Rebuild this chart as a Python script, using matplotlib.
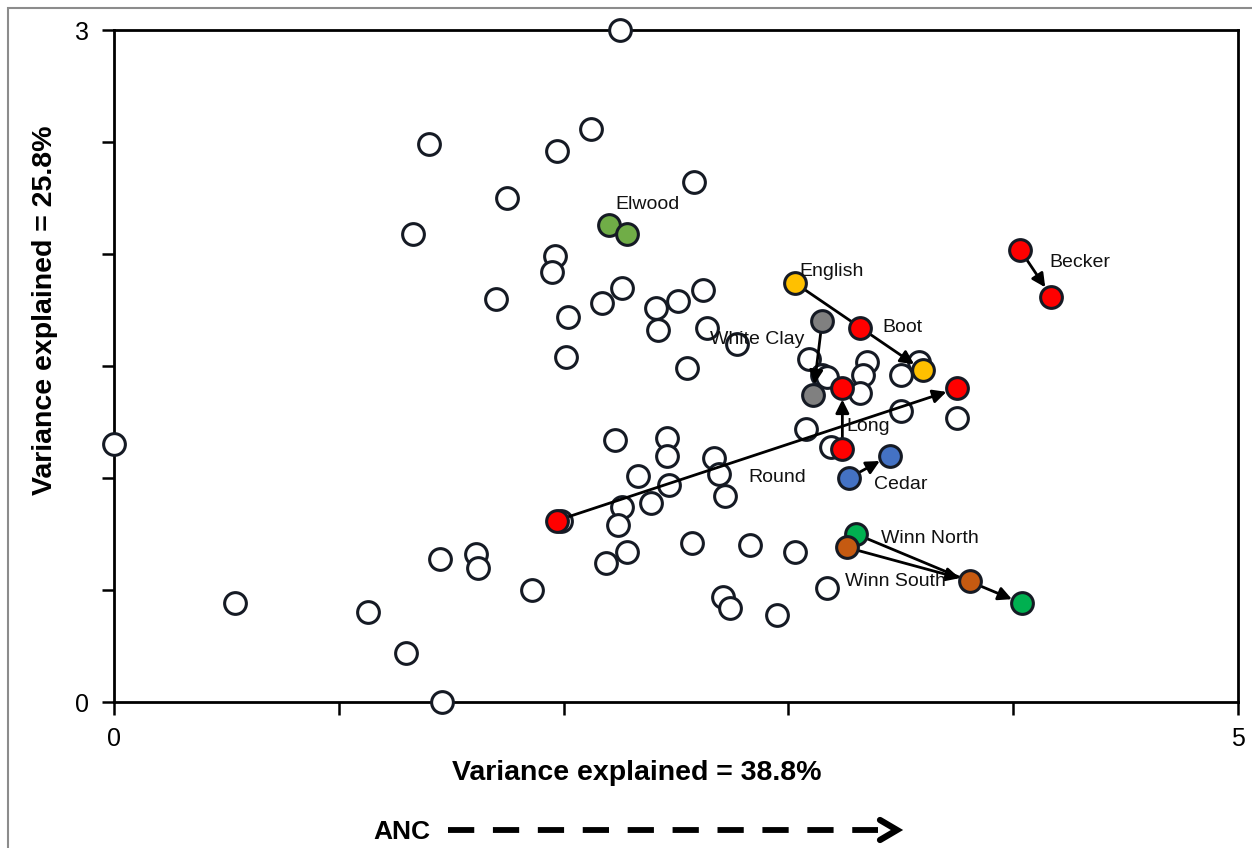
import matplotlib.pyplot as plt
from matplotlib.patches import Rectangle

plt.rcParams['font.family'] = ['Liberation Sans', 'DejaVu Sans']

# open circles (all other sites)
open_x = [2.25, 2.12, 1.40, 1.97, 2.58, 1.75, 1.33, 1.96, 1.95, 2.26, 1.70, 2.17,
          2.62, 2.51, 2.41, 2.02, 2.42, 2.64, 2.77, 2.01, 2.55, 3.09, 3.15, 3.17,
          3.35, 3.33, 3.32, 3.50, 3.58, 3.50, 3.75, 3.08, 3.19, 0.00, 2.23, 2.46,
          2.46, 2.67, 2.69, 2.33, 2.47, 2.72, 2.39, 2.26, 1.99, 2.24, 2.28, 2.19,
          2.57, 2.83, 3.03, 1.86, 2.71, 2.74, 2.95, 3.17, 0.54, 1.13, 1.30, 1.45,
          1.61, 1.62, 1.46]
open_y = [3.00, 2.56, 2.49, 2.46, 2.32, 2.25, 2.09, 1.99, 1.92, 1.85, 1.80, 1.78,
          1.84, 1.79, 1.76, 1.72, 1.66, 1.67, 1.60, 1.54, 1.49, 1.53, 1.46, 1.45,
          1.52, 1.46, 1.38, 1.46, 1.52, 1.30, 1.27, 1.22, 1.14, 1.15, 1.17, 1.18,
          1.10, 1.09, 1.02, 1.01, 0.97, 0.92, 0.89, 0.87, 0.81, 0.79, 0.67, 0.62,
          0.71, 0.70, 0.67, 0.50, 0.47, 0.42, 0.39, 0.51, 0.44, 0.40, 0.22, 0.64,
          0.66, 0.60, 0.00]

# highlighted lakes: (start, end) positions
lakes = ['Elwood', 'English', 'Boot', 'Becker', 'White Clay', 'Long', 'Round',
         'Cedar', 'Winn North', 'Winn South']
x_start = [2.20, 3.03, 3.32, 4.03, 3.15, 3.24, 1.97, 3.27, 3.30, 3.26]
y_start = [2.13, 1.87, 1.67, 2.02, 1.70, 1.13, 0.81, 1.00, 0.75, 0.69]
x_end = [2.28, 3.60, None, 4.17, 3.11, 3.24, 3.75, 3.45, 4.04, 3.81]
y_end = [2.09, 1.48, None, 1.81, 1.37, 1.40, 1.40, 1.10, 0.44, 0.54]
lake_colors = ['#70AD47', '#FFC000', '#FF0000', '#FF0000', '#808080', '#FF0000',
               '#FF0000', '#4472C4', '#00B050', '#C55A11']
draw_arrow = [False, True, False, True, True, True, True, True, True, True]

# label anchor (left, vertical centre), data units
label_x = [2.23, 3.05, 3.42, 4.16, 2.65, 3.26, 2.82, 3.38, 3.41, 3.25]
label_y = [2.22, 1.92, 1.67, 1.96, 1.62, 1.23, 1.00, 0.97, 0.73, 0.54]

edge = '#151a24'

fig = plt.figure(figsize=(12.52, 8.48), dpi=100)
ax = fig.add_axes([114 / 1252, 1 - 702 / 848, 1124 / 1252, 672 / 848])

ax.scatter(open_x, open_y, s=245, facecolors='white', edgecolors=edge,
           linewidths=2.2, zorder=3, clip_on=False)

for i in range(len(lakes)):
    if x_end[i] is not None and draw_arrow[i]:
        ax.annotate('', xy=(x_end[i], y_end[i]), xytext=(x_start[i], y_start[i]),
                    arrowprops=dict(arrowstyle='-|>', color='black', lw=2.0,
                                    mutation_scale=20, shrinkA=7, shrinkB=8),
                    zorder=4)
for i in range(len(lakes)):
    xs = [x_start[i]]
    ys = [y_start[i]]
    if x_end[i] is not None:
        xs.append(x_end[i])
        ys.append(y_end[i])
    ax.scatter(xs, ys, s=245, facecolors=lake_colors[i], edgecolors=edge,
               linewidths=2.2, zorder=5, clip_on=False)
    ax.text(label_x[i], label_y[i], lakes[i], fontsize=14, ha='left', va='center',
            color='#111111', zorder=6)

ax.set_xlim(0, 5)
ax.set_ylim(0, 3)
ax.set_xticks([0, 1, 2, 3, 4, 5])
ax.set_xticklabels(['0', '', '', '', '', '5'])
ax.set_yticks([0, 0.5, 1, 1.5, 2, 2.5, 3])
ax.set_yticklabels(['0', '', '', '', '', '', '3'])
ax.tick_params(direction='out', length=9, width=1.8, labelsize=18, pad=9, color='black')
for sp in ax.spines.values():
    sp.set_linewidth(2.0)
    sp.set_color('black')

fig.text(637 / 1252, 1 - 773 / 848, 'Variance explained = 38.8%', fontsize=20.5,
         fontweight='bold', ha='center', va='center')
fig.text(45 / 1252, 1 - 310 / 848, 'Variance explained = 25.8%', fontsize=20.5,
         fontweight='bold', ha='center', va='center', rotation=90)

# ANC gradient arrow
fig.text(402 / 1252, 1 - 832 / 848, 'ANC', fontsize=19, fontweight='bold',
         ha='center', va='center')
fig.add_artist(plt.Line2D([448 / 1252, 878 / 1252], [1 - 830 / 848, 1 - 830 / 848],
                          transform=fig.transFigure, color='black', lw=4.2,
                          dashes=(4.5, 3.2)))
fig.add_artist(plt.Line2D([880 / 1252, 897 / 1252, 880 / 1252],
                          [1 - 820 / 848, 1 - 830 / 848, 1 - 840 / 848],
                          transform=fig.transFigure, color='black', lw=4.5,
                          solid_capstyle='round', solid_joinstyle='miter'))

# chart area border (cropped at right/bottom)
fig.add_artist(Rectangle((8 / 1252, -0.1), 1.2, 1 - 8 / 848 + 0.1,
                         transform=fig.transFigure, fill=False,
                         edgecolor='#8c8c8c', lw=1.5))

fig.savefig('out.png', dpi=100)
